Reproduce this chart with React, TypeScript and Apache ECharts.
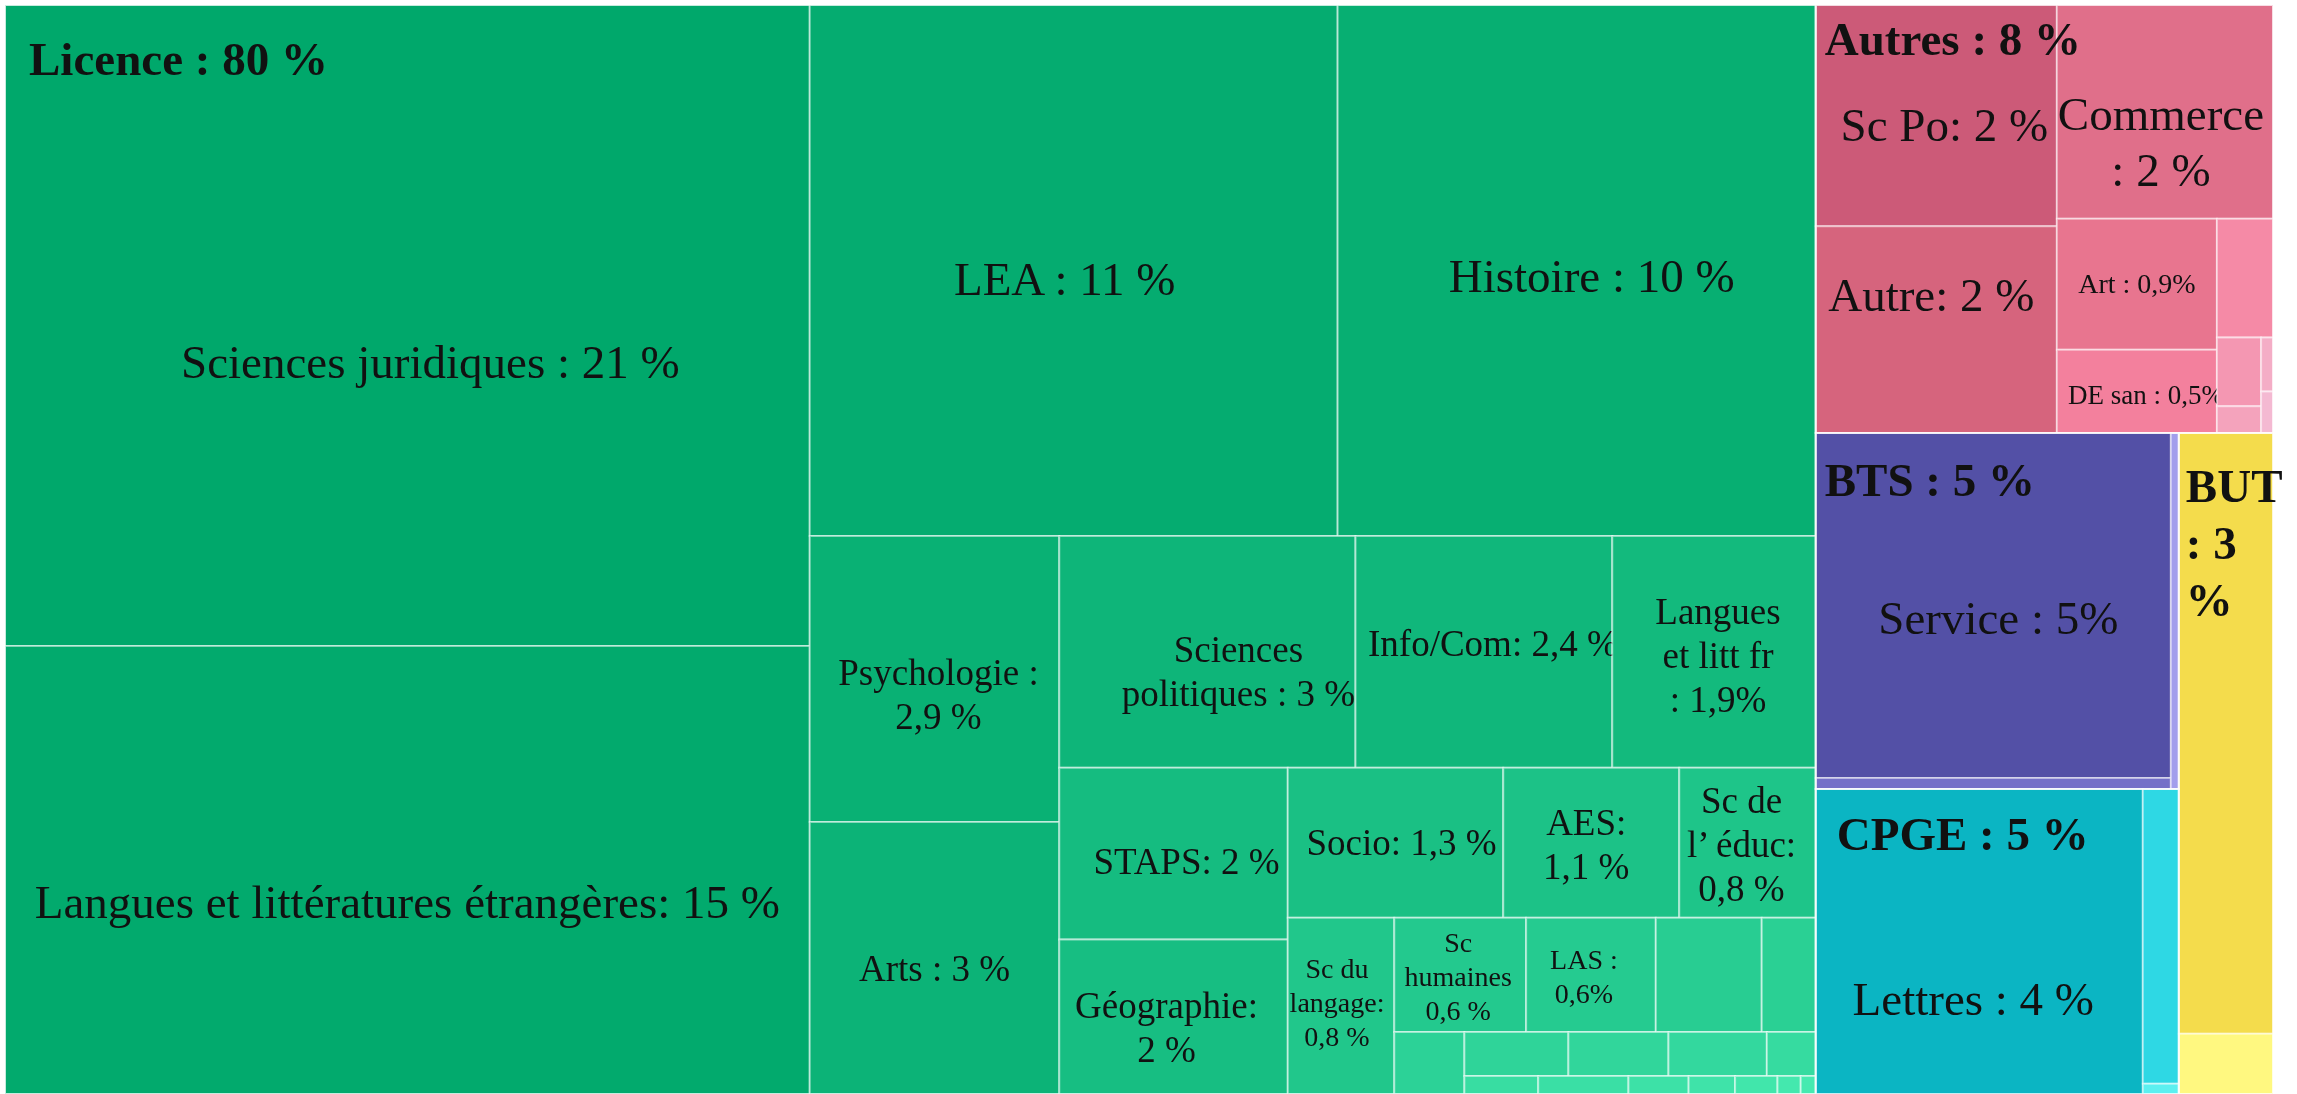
import React, { useEffect, useRef } from "react";
import * as echarts from "echarts";

const groupNames = ["Licence", "Autres", "BTS", "CPGE", "BUT"];
const groupLabels = ["Licence : 80 %", "Autres : 8 %", "BTS : 5 %", "CPGE : 5 %", "BUT\n: 3\n%"];

const licenceNames = [
  "Sciences juridiques", "Langues et littératures étrangères", "LEA", "Histoire",
  "Psychologie", "Arts", "Sciences politiques", "Info/Com", "Langues et litt fr",
  "STAPS", "Géographie", "Socio", "AES", "Sc de l'éduc", "Sc du langage",
  "Sc humaines", "LAS", "Licence autre 1", "Licence autre 2", "Licence autre 3",
  "Licence autre 4", "Licence autre 5", "Licence autre 6", "Licence autre 7",
  "Licence autre 8", "Licence autre 9", "Licence autre 10", "Licence autre 11",
  "Licence autre 12", "Licence autre 13", "Licence autre 14",
];
const licenceValues = [
  20.89, 14.6, 11.35, 10.28,
  2.89, 2.75, 2.78, 2.41, 1.91,
  1.59, 1.43, 1.31, 1.07, 0.83, 0.76,
  0.61, 0.6, 0.49, 0.25, 0.176,
  0.185, 0.178, 0.175, 0.087,
  0.054, 0.066, 0.044, 0.034, 0.031, 0.017, 0.011,
];
const licenceLabels = [
  "Sciences juridiques : 21 %", "Langues et littératures étrangères: 15 %", "LEA : 11 %", "Histoire : 10 %",
  "Psychologie :\n2,9 %", "Arts : 3 %", "Sciences\npolitiques : 3 %", "Info/Com: 2,4 %", "Langues\net litt fr\n: 1,9%",
  "STAPS: 2 %", "Géographie:\n2 %", "Socio: 1,3 %", "AES:\n1,1 %", "Sc de\nl’ éduc:\n0,8 %", "Sc du\nlangage:\n0,8 %",
  "Sc\nhumaines\n0,6 %", "LAS :\n0,6%", "", "", "",
  "", "", "", "",
  "", "", "", "", "", "", "",
];

const autresNames = ["Sc Po", "Autre", "Commerce", "Art", "DE san", "Autres 1", "Autres 2", "Autres 3", "Autres 4", "Autres 5"];
const autresValues = [2.16, 2.02, 1.87, 0.85, 0.54, 0.27, 0.123, 0.048, 0.026, 0.02];
const autresLabels = ["Sc Po: 2 %", "Autre: 2 %", "Commerce\n: 2 %", "Art : 0,9%", "DE san : 0,5%", "", "", "", "", ""];

const btsNames = ["Service", "BTS autre 1", "BTS autre 2"];
const btsValues = [4.96, 0.158, 0.115];
const btsLabels = ["Service : 5%", "", ""];

const cpgeNames = ["Lettres", "CPGE autre 1", "CPGE autre 2"];
const cpgeValues = [4.04, 0.43, 0.015];
const cpgeLabels = ["Lettres : 4 %", "", ""];

const butNames = ["BUT 1", "BUT 2"];
const butValues = [2.29, 0.23];
const butLabels = ["", ""];

// ---------- LAYOUT HINTS (strip direction + number of items per strip) ----------
type Strip = ["col" | "row", number];
const topStrips: Strip[] = [["col", 1], ["row", 1], ["col", 2], ["col", 1]];
const licenceStrips: Strip[] = [
  ["col", 2], ["row", 2], ["col", 2], ["row", 3], ["col", 2], ["row", 3],
  ["col", 1], ["row", 4], ["col", 1], ["row", 4], ["row", 7],
];
const autresStrips: Strip[] = [["col", 2], ["row", 1], ["col", 2], ["row", 1], ["col", 2], ["col", 2]];
const btsStrips: Strip[] = [["col", 2], ["col", 1]];
const cpgeStrips: Strip[] = [["col", 1], ["col", 2]];
const butStrips: Strip[] = [["row", 1], ["row", 1]];

// ---------- STYLES ----------
const autresColors = ["#cc5a78", "#d6647d", "#e06f8a", "#e8758f", "#f3809d", "#f58aa6", "#f497b2", "#f4a3bc", "#f4adc6", "#f4b9d2"];
const btsColors = ["#5350a6", "#7470c8", "#a29eec"];
const cpgeColors = ["#0bb5c3", "#2ed8e4", "#5cf0f0"];
const butColors = ["#f4dc4c", "#fff880"];
function licenceColor(i: number, n: number) {
  const t = i / (n - 1);
  const a = [0, 168, 107];
  const b = [70, 234, 176];
  const c = a.map((v, k) => Math.round(v + (b[k] - v) * t));
  return `rgb(${c[0]},${c[1]},${c[2]})`;
}
const licenceSizes = [47, 47, 47, 47, 37, 37, 37, 37, 37, 37, 37, 37, 37, 37, 28, 28, 28];
const autresSizes = [47, 47, 47, 28, 27];
const btsSizes = [47];
const cpgeSizes = [47];
const labelShift: Record<string, [number, number]> = {
  "Sciences juridiques": [23, 36], "Langues et littératures étrangères": [0, 32], "LEA": [-9, 9],
  "Histoire": [15, 6], "Psychologie": [4, 16], "Arts": [0, 11], "Sciences politiques": [31, 20],
  "Info/Com": [9, -8], "Langues et litt fr": [4, 4], "STAPS": [13, 8], "Géographie": [-7, 11],
  "Socio": [6, 0], "AES": [-5, 2], "Sc de l'éduc": [-6, 2], "Sc du langage": [-4, -3],
  "Sc humaines": [-2, 2], "LAS": [-7, 2], "Sc Po": [8, 9], "Autre": [-5, -35], "Commerce": [-4, 30],
  "Art": [0, -1], "DE san": [9, 4], "Service": [5, 12], "Lettres": [-6, 58],
};
const groupLabelPos: [number, number][] = [[24, 53], [9, 33], [9, 46], [21, 45], [7, 52]];
const FONT = '"Liberation Serif", "Times New Roman", serif';

// ---------- LAYOUT (proportional strips, in axis value units) ----------
type R = { x: number; y: number; w: number; h: number };
function stripLayout(values: number[], strips: Strip[], rect: R): R[] {
  const out: R[] = [];
  let r = { ...rect };
  let remaining = values.reduce((a, b) => a + b, 0);
  let i = 0;
  for (const [dir, n] of strips) {
    const items = values.slice(i, i + n);
    const s = items.reduce((a, b) => a + b, 0);
    if (dir === "col") {
      const w = (r.w * s) / remaining;
      let y = r.y;
      items.forEach((v) => {
        const h = (r.h * v) / s;
        out.push({ x: r.x, y, w, h });
        y += h;
      });
      r = { x: r.x + w, y: r.y, w: r.w - w, h: r.h };
    } else {
      const h = (r.h * s) / remaining;
      let x = r.x;
      items.forEach((v) => {
        const w = (r.w * v) / s;
        out.push({ x, y: r.y, w, h });
        x += w;
      });
      r = { x: r.x, y: r.y + h, w: r.w, h: r.h - h };
    }
    remaining -= s;
    i += n;
  }
  return out;
}

const groups = [
  { names: licenceNames, values: licenceValues, labels: licenceLabels, strips: licenceStrips, sizes: licenceSizes, color: (i: number) => licenceColor(i, licenceNames.length) },
  { names: autresNames, values: autresValues, labels: autresLabels, strips: autresStrips, sizes: autresSizes, color: (i: number) => autresColors[i] },
  { names: btsNames, values: btsValues, labels: btsLabels, strips: btsStrips, sizes: btsSizes, color: (i: number) => btsColors[i] },
  { names: cpgeNames, values: cpgeValues, labels: cpgeLabels, strips: cpgeStrips, sizes: cpgeSizes, color: (i: number) => cpgeColors[i] },
  { names: butNames, values: butValues, labels: butLabels, strips: butStrips, sizes: [] as number[], color: (i: number) => butColors[i] },
];

export default function App() {
  const ref = useRef<HTMLDivElement>(null);
  useEffect(() => {
    if (!ref.current) return;
    const chart = echarts.init(ref.current, null, { renderer: "svg" });

    const groupTotals = groups.map((g) => g.values.reduce((a, b) => a + b, 0));
    const groupRects = stripLayout(groupTotals, topStrips, { x: 0, y: 0, w: 100, h: 100 });

    const leaves: any[] = [];
    groups.forEach((g, gi) => {
      const rects = stripLayout(g.values, g.strips, groupRects[gi]);
      rects.forEach((r, i) => {
        leaves.push({
          name: g.names[i],
          value: [r.x, r.y, r.x + r.w, r.y + r.h, g.values[i]],
          color: g.color(i),
          label: g.labels[i],
          size: g.sizes[i] || 28,
        });
      });
    });
    const groupData = groupRects.map((r, gi) => ({
      name: groupNames[gi],
      value: [r.x, r.y, r.x + r.w, r.y + r.h, groupTotals[gi]],
    }));

    chart.setOption({
      animation: false,
      grid: { left: 5, top: 5, width: 2268, height: 1089 },
      xAxis: { type: "value", min: 0, max: 100, show: false },
      yAxis: { type: "value", min: 0, max: 100, inverse: true, show: false },
      series: [
        {
          type: "custom",
          name: "cells",
          coordinateSystem: "cartesian2d",
          encode: { x: [0, 2], y: [1, 3] },
          clip: false,
          silent: true,
          data: leaves.map((l) => ({ name: l.name, value: l.value })),
          renderItem: (params: any, api: any) => {
            const leaf = leaves[params.dataIndex];
            const p0 = api.coord([api.value(0), api.value(1)]);
            const p1 = api.coord([api.value(2), api.value(3)]);
            const children: any[] = [
              {
                type: "rect",
                shape: { x: p0[0], y: p0[1], width: p1[0] - p0[0], height: p1[1] - p0[1] },
                style: { fill: leaf.color, stroke: "rgba(255,255,255,0.5)", lineWidth: 2 },
              },
            ];
            if (leaf.label) {
              const sh = labelShift[leaf.name] || [0, 0];
              children.push({
                type: "text",
                x: (p0[0] + p1[0]) / 2 + sh[0],
                y: (p0[1] + p1[1]) / 2 + sh[1],
                style: {
                  text: leaf.label,
                  fill: "#111",
                  fontSize: leaf.size,
                  fontFamily: FONT,
                  align: "center",
                  verticalAlign: "middle",
                  lineHeight: Math.round(leaf.size * 1.2),
                },
              });
            }
            return { type: "group", children };
          },
        },
        {
          type: "custom",
          name: "groups",
          coordinateSystem: "cartesian2d",
          encode: { x: [0, 2], y: [1, 3] },
          clip: false,
          silent: true,
          z: 5,
          data: groupData,
          renderItem: (params: any, api: any) => {
            const gi = params.dataIndex;
            const p0 = api.coord([api.value(0), api.value(1)]);
            const p1 = api.coord([api.value(2), api.value(3)]);
            const pos = groupLabelPos[gi];
            return {
              type: "group",
              children: [
                {
                  type: "rect",
                  shape: { x: p0[0], y: p0[1], width: p1[0] - p0[0], height: p1[1] - p0[1] },
                  style: { fill: "none", stroke: "rgba(255,255,255,0.55)", lineWidth: 2 },
                },
                {
                  type: "text",
                  x: p0[0] + pos[0],
                  y: p0[1] + pos[1] - 28,
                  style: {
                    text: groupLabels[gi],
                    fill: "#111",
                    fontSize: 47,
                    fontWeight: "bold",
                    fontFamily: FONT,
                    align: "left",
                    verticalAlign: "top",
                    lineHeight: 57,
                  },
                },
              ],
            };
          },
        },
      ],
    });
    return () => chart.dispose();
  }, []);

  return <div ref={ref} style={{ position: "fixed", left: 0, top: 0, width: 2297, height: 1094 }} />;
}
